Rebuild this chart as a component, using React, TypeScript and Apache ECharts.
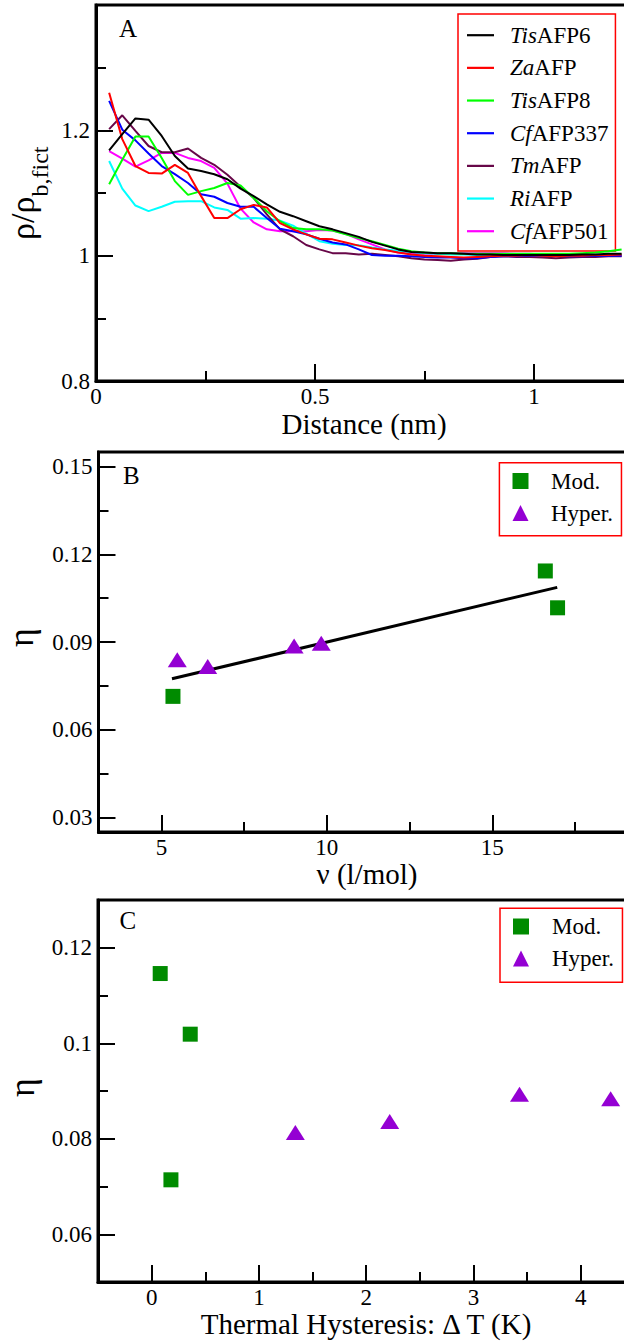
import React, { useEffect, useRef } from "react";
import * as echarts from "echarts";

const FONT = "Liberation Serif";

// ---- Panel A data ----
const distance = [
  0.03, 0.06, 0.09, 0.12, 0.15, 0.18, 0.21, 0.24, 0.27, 0.3,
  0.33, 0.36, 0.39, 0.42, 0.45, 0.48, 0.51, 0.54, 0.57, 0.6,
  0.63, 0.66, 0.69, 0.72, 0.75, 0.78, 0.81, 0.84, 0.87, 0.9,
  0.93, 0.96, 0.99, 1.02, 1.05, 1.08, 1.11, 1.14, 1.17, 1.2,
];
const tisAFP6 = [
  1.168, 1.194, 1.219, 1.217, 1.191, 1.159, 1.139, 1.135, 1.13, 1.122,
  1.107, 1.095, 1.082, 1.07, 1.063, 1.055, 1.047, 1.042, 1.036, 1.03,
  1.022, 1.016, 1.01, 1.006, 1.005, 1.004, 1.004, 1.003, 1.002, 1.002,
  1.001, 1.001, 1.001, 1.001, 1.001, 1.001, 1.002, 1.002, 1.003, 1.003,
];
const zaAFP = [
  1.26, 1.186, 1.143, 1.132, 1.131, 1.145, 1.132, 1.095, 1.06, 1.06,
  1.074, 1.081, 1.077, 1.052, 1.042, 1.034, 1.027, 1.026, 1.021, 1.016,
  1.012, 1.009, 1.005, 1.002, 1.0, 0.999, 0.998, 0.997, 0.998, 0.999,
  1.0, 1.0, 1.001, 1.0, 0.999, 1.0, 1.0, 1.001, 1.001, 1.002,
];
const tisAFP8 = [
  1.114, 1.153, 1.19, 1.19, 1.156, 1.119, 1.097, 1.103, 1.108, 1.116,
  1.112, 1.092, 1.071, 1.055, 1.044, 1.042, 1.042, 1.04, 1.034, 1.028,
  1.023, 1.017, 1.011, 1.007, 1.005, 1.004, 1.004, 1.003, 1.003, 1.003,
  1.003, 1.003, 1.003, 1.003, 1.003, 1.003, 1.004, 1.005, 1.007, 1.01,
];
const cfAFP337 = [
  1.247, 1.201, 1.184, 1.163, 1.143, 1.13, 1.116, 1.098, 1.094, 1.084,
  1.078, 1.078, 1.06, 1.043, 1.039, 1.034, 1.027, 1.021, 1.018, 1.01,
  1.001, 1.0, 1.0, 0.999, 0.998, 0.997, 0.997, 0.996, 0.996, 0.998,
  0.999, 0.999, 1.0, 1.0, 1.0, 0.999, 0.999, 1.0, 1.0, 1.0,
];
const tmAFP = [
  1.202, 1.224, 1.199, 1.175, 1.165, 1.165, 1.171, 1.156, 1.145, 1.129,
  1.11, 1.092, 1.066, 1.042, 1.031, 1.017, 1.01, 1.004, 1.004, 1.002,
  1.003, 1.001, 0.999, 0.996, 0.994, 0.993, 0.992, 0.994, 0.995, 0.998,
  0.999, 0.998, 0.998, 0.997, 0.996, 0.997, 0.998, 0.998, 0.999, 0.999,
];
const riAFP = [
  1.151, 1.107, 1.08, 1.071, 1.078, 1.086, 1.087, 1.087, 1.077, 1.073,
  1.059, 1.06, 1.059, 1.056, 1.048, 1.035, 1.023, 1.019, 1.017, 1.0165,
  1.013, 1.01, 1.008, 1.006, 1.004, 1.003, 1.002, 1.002, 1.001, 1.0,
  1.0, 1.0, 1.001, 1.001, 1.002, 1.002, 1.002, 1.001, 1.001, 1.001,
];
const cfAFP501 = [
  1.167, 1.155, 1.142, 1.152, 1.164, 1.164, 1.156, 1.151, 1.14, 1.115,
  1.075, 1.053, 1.042, 1.039, 1.039, 1.039, 1.041, 1.04, 1.035, 1.026,
  1.018, 1.01, 1.005, 1.003, 1.003, 1.003, 1.003, 1.004, 1.004, 1.004,
  1.004, 1.003, 1.003, 1.002, 1.002, 1.002, 1.001, 1.001, 1.0, 1.0,
];
const namePrefixes = ["Tis", "Za", "Tis", "Cf", "Tm", "Ri", "Cf"];
const nameSuffixes = ["AFP6", "AFP", "AFP8", "AFP337", "AFP", "AFP", "AFP501"];
const lineColors = ["#000000", "#ff0000", "#00ff00", "#0000ff", "#670748", "#00ffff", "#ff00ff"];
const panelASeries = [tisAFP6, zaAFP, tisAFP8, cfAFP337, tmAFP, riAFP, cfAFP501];

// ---- Panel B data ----
const modNu = [5.35, 16.6, 16.97];
const modEtaB = [0.0714, 0.1143, 0.1017];
const hypNu = [5.48, 6.4, 9.01, 9.83];
const hypEtaB = [0.0839, 0.0816, 0.0886, 0.0896];
const fitNu = [5.32, 16.96];
const fitEta = [0.0774, 0.1087];

// ---- Panel C data ----
const modDT = [0.08, 0.36, 0.18];
const modEtaC = [0.1146, 0.1019, 0.0714];
const hypDT = [1.34, 2.22, 3.43, 4.28];
const hypEtaC = [0.0813, 0.0836, 0.0893, 0.0884];

// ---- Ticks ----
const aXTicks = [0, 0.5, 1];
const aXMinor = [0.25, 0.75];
const aYTicks = [0.8, 1, 1.2];
const aYMinor = [0.9, 1.1, 1.3];
const bXTicks = [5, 10, 15];
const bXMinor = [7.5, 12.5, 17.5];
const bYTicks = [0.03, 0.06, 0.09, 0.12, 0.15];
const bYMinor = [0.045, 0.075, 0.105, 0.135];
const cXTicks = [0, 1, 2, 3, 4];
const cXMinor = [0.5, 1.5, 2.5, 3.5];
const cYTicks = [0.06, 0.08, 0.1, 0.12];
const cYMinor = [0.07, 0.09, 0.11];

const modColor = "#008b00";
const hypColor = "#9400d3";

function majorAxis(grid: number, min: number, max: number, ticks: number[], dim: "x" | "y") {
  return {
    type: "value",
    gridIndex: grid,
    min,
    max,
    position: dim === "x" ? "bottom" : "left",
    axisLine: { show: true, onZero: false, lineStyle: { color: "#000", width: 3 } },
    axisTick: { show: true, inside: true, length: 17, customValues: ticks, lineStyle: { color: "#000", width: 2 } },
    axisLabel: {
      show: true,
      customValues: ticks,
      margin: dim === "x" ? 7.5 : 6,
      color: "#000",
      fontFamily: FONT,
      fontSize: 23,
      lineHeight: dim === "x" ? 16 : 23,
    },
    splitLine: { show: false },
  };
}
function minorAxis(grid: number, min: number, max: number, ticks: number[], dim: "x" | "y") {
  return {
    type: "value",
    gridIndex: grid,
    min,
    max,
    position: dim === "x" ? "bottom" : "left",
    axisLine: { show: false, onZero: false },
    axisTick: { show: true, inside: true, length: 10, customValues: ticks, lineStyle: { color: "#000", width: 2 } },
    axisLabel: { show: false },
    splitLine: { show: false },
  };
}

function zip(xs: number[], ys: number[]) {
  return xs.map((x, i) => [x, ys[i]]);
}

export default function App() {
  const ref = useRef<HTMLDivElement>(null);
  useEffect(() => {
    document.body.style.margin = "0";
    if (!ref.current) return;
    const chart = echarts.init(ref.current, undefined, { renderer: "svg" });
    const aNames = namePrefixes.map((p, i) => p + nameSuffixes[i]);

    const gridStyle = { show: true, borderColor: "#000", borderWidth: 3, backgroundColor: "transparent" };
    const lineIcon = "path://M0,0H27V2.2H0Z";

    const option: any = {
      animation: false,
      backgroundColor: "#fff",
      textStyle: { fontFamily: FONT },
      grid: [
        { ...gridStyle, left: 96, top: 5, width: 547.5, height: 376 },
        { ...gridStyle, left: 98.5, top: 452, width: 542.8, height: 380 },
        { ...gridStyle, left: 98, top: 900, width: 536.25, height: 382 },
      ],
      xAxis: [
        majorAxis(0, 0, 1.25, aXTicks, "x"),
        minorAxis(0, 0, 1.25, aXMinor, "x"),
        majorAxis(1, 3.1, 19.5, bXTicks, "x"),
        minorAxis(1, 3.1, 19.5, bXMinor, "x"),
        majorAxis(2, -0.5, 4.5, cXTicks, "x"),
        minorAxis(2, -0.5, 4.5, cXMinor, "x"),
      ],
      yAxis: [
        majorAxis(0, 0.8, 1.4, aYTicks, "y"),
        minorAxis(0, 0.8, 1.4, aYMinor, "y"),
        majorAxis(1, 0.025, 0.155, bYTicks, "y"),
        minorAxis(1, 0.025, 0.155, bYMinor, "y"),
        majorAxis(2, 0.05, 0.13, cYTicks, "y"),
        minorAxis(2, 0.05, 0.13, cYMinor, "y"),
      ],
      legend: [
        {
          orient: "vertical",
          left: 458,
          top: 14,
          data: aNames.map((n) => ({ name: n, icon: lineIcon })),
          itemWidth: 27,
          itemHeight: 14,
          itemGap: 9.67,
          padding: [9.7, 7, 8.3, 9],
          borderColor: "#ff0000",
          borderWidth: 1.5,
          selectedMode: false,
          formatter: (name: string) => {
            const i = aNames.indexOf(name);
            return `{i|${namePrefixes[i]}}{n|${nameSuffixes[i]}}`;
          },
          textStyle: {
            color: "#000",
            fontFamily: FONT,
            fontSize: 23,
            lineHeight: 14,
            rich: {
              i: { fontStyle: "italic", fontFamily: FONT, fontSize: 23, lineHeight: 14, color: "#000", padding: [0, 0, 0, 11] },
              n: { fontFamily: FONT, fontSize: 23, lineHeight: 14, color: "#000" },
            },
          },
        },
        {
          orient: "vertical",
          left: 499.4,
          top: 462.7,
          data: ["Mod.", "Hyper."],
          itemWidth: 16,
          itemHeight: 16,
          itemGap: 9,
          padding: [6.8, 8.5, 11.2, 13.1],
          borderColor: "#ff0000",
          borderWidth: 1.5,
          selectedMode: false,
          itemStyle: { opacity: 1 },
          formatter: (name: string) => `{n|${name}}`,
          textStyle: {
            color: "#000",
            fontFamily: FONT,
            fontSize: 23,
            lineHeight: 16,
            rich: { n: { fontFamily: FONT, fontSize: 23, lineHeight: 16, color: "#000", padding: [0, 0, 0, 17.5] } },
          },
        },
        {
          orient: "vertical",
          left: 500,
          top: 908.3,
          data: ["Mod.", "Hyper."],
          itemWidth: 16,
          itemHeight: 16,
          itemGap: 9,
          padding: [6.7, 8.5, 12.3, 13],
          borderColor: "#ff0000",
          borderWidth: 1.5,
          selectedMode: false,
          itemStyle: { opacity: 1 },
          formatter: (name: string) => `{n|${name}}`,
          textStyle: {
            color: "#000",
            fontFamily: FONT,
            fontSize: 23,
            lineHeight: 16,
            rich: { n: { fontFamily: FONT, fontSize: 23, lineHeight: 16, color: "#000", padding: [0, 0, 0, 18] } },
          },
        },
      ],
      series: [
        ...panelASeries.map((vals, i) => ({
          type: "line",
          name: aNames[i],
          xAxisIndex: 0,
          yAxisIndex: 0,
          data: zip(distance, vals),
          symbol: "none",
          showSymbol: false,
          color: lineColors[i],
          itemStyle: { color: lineColors[i] },
          lineStyle: { color: lineColors[i], width: 2 },
          z: 3 + (6 - i),
        })),
        {
          type: "line",
          name: "fit",
          xAxisIndex: 2,
          yAxisIndex: 2,
          data: zip(fitNu, fitEta),
          symbol: "none",
          showSymbol: false,
          lineStyle: { color: "#000", width: 3 },
          color: "#000",
          z: 3,
        },
        {
          type: "scatter",
          name: "Mod.",
          xAxisIndex: 2,
          yAxisIndex: 2,
          data: zip(modNu, modEtaB),
          symbol: "rect",
          symbolSize: 15,
          color: modColor,
          itemStyle: { color: modColor, opacity: 1 },
          z: 4,
        },
        {
          type: "scatter",
          name: "Hyper.",
          xAxisIndex: 2,
          yAxisIndex: 2,
          data: zip(hypNu, hypEtaB),
          symbol: "triangle",
          symbolSize: [19, 15],
          color: hypColor,
          itemStyle: { color: hypColor, opacity: 1 },
          z: 4,
        },
        {
          type: "scatter",
          name: "Mod.",
          xAxisIndex: 4,
          yAxisIndex: 4,
          data: zip(modDT, modEtaC),
          symbol: "rect",
          symbolSize: 15,
          color: modColor,
          itemStyle: { color: modColor, opacity: 1 },
          z: 4,
        },
        {
          type: "scatter",
          name: "Hyper.",
          xAxisIndex: 4,
          yAxisIndex: 4,
          data: zip(hypDT, hypEtaC),
          symbol: "triangle",
          symbolSize: [19, 15],
          color: hypColor,
          itemStyle: { color: hypColor, opacity: 1 },
          z: 4,
        },
      ],
      graphic: [
        {
          type: "text",
          x: 119,
          y: 28.6,
          style: { text: "A", font: `25px "${FONT}"`, fill: "#000", textAlign: "left", textVerticalAlign: "middle", align: "left", verticalAlign: "middle" },
        },
        {
          type: "text",
          x: 123,
          y: 475.6,
          style: { text: "B", font: `25px "${FONT}"`, fill: "#000", textAlign: "left", textVerticalAlign: "middle", align: "left", verticalAlign: "middle" },
        },
        {
          type: "text",
          x: 119.5,
          y: 920.6,
          style: { text: "C", font: `25px "${FONT}"`, fill: "#000", textAlign: "left", textVerticalAlign: "middle", align: "left", verticalAlign: "middle" },
        },
        {
          type: "text",
          x: 364,
          y: 423.5,
          style: { text: "Distance (nm)", font: `29px "${FONT}"`, fill: "#000", textAlign: "center", textVerticalAlign: "middle", align: "center", verticalAlign: "middle" },
        },
        {
          type: "text",
          x: 367,
          y: 874,
          style: { text: "ν (l/mol)", font: `29px "${FONT}"`, fill: "#000", textAlign: "center", textVerticalAlign: "middle", align: "center", verticalAlign: "middle" },
        },
        {
          type: "text",
          x: 366,
          y: 1324,
          style: { text: "Thermal Hysteresis: Δ T (K)", font: `29px "${FONT}"`, fill: "#000", textAlign: "center", textVerticalAlign: "middle", align: "center", verticalAlign: "middle" },
        },
        {
          type: "group",
          x: 34,
          y: 240,
          rotation: Math.PI / 2,
          children: [
            {
              type: "text",
              x: 0,
              y: -11.5,
              style: { text: "ρ/ρ", font: `34px "${FONT}"`, fill: "#000", textAlign: "left", textVerticalAlign: "middle", align: "left", verticalAlign: "middle" },
            },
            {
              type: "text",
              x: 43.5,
              y: 6,
              style: { text: "b,fict", font: `24px "${FONT}"`, fill: "#000", textAlign: "left", textVerticalAlign: "middle", align: "left", verticalAlign: "middle" },
            },
          ],
        },
        {
          type: "text",
          x: 21,
          y: 637.5,
          rotation: Math.PI / 2,
          style: { text: "η", font: `36px "${FONT}"`, fill: "#000", textAlign: "center", textVerticalAlign: "middle", align: "center", verticalAlign: "middle" },
        },
        {
          type: "text",
          x: 22,
          y: 1087.5,
          rotation: Math.PI / 2,
          style: { text: "η", font: `36px "${FONT}"`, fill: "#000", textAlign: "center", textVerticalAlign: "middle", align: "center", verticalAlign: "middle" },
        },
      ],
    };
    chart.setOption(option);
    return () => {
      chart.dispose();
    };
  }, []);

  return (
    <div style={{ width: 624, height: 1342, overflow: "hidden", position: "relative", background: "#fff" }}>
      <div ref={ref} style={{ width: 680, height: 1342 }} />
    </div>
  );
}
